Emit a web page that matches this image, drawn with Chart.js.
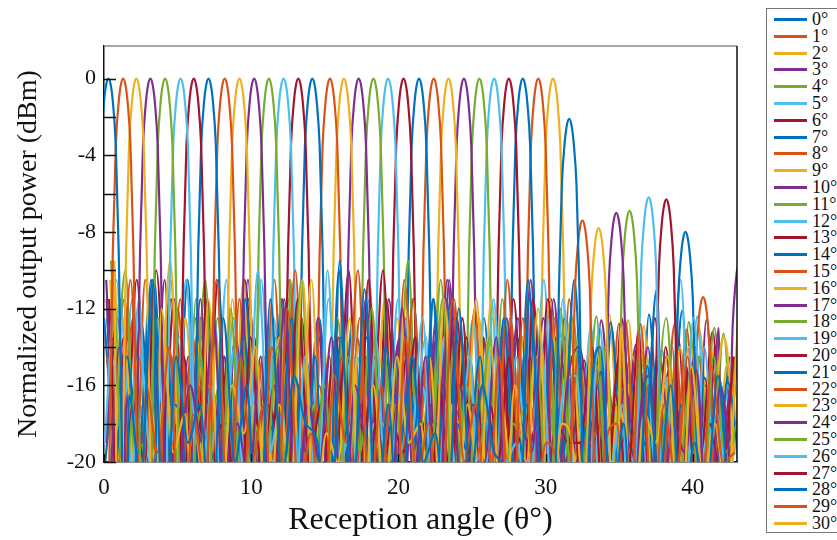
<!DOCTYPE html>
<html>
<head>
<meta charset="utf-8">
<script src="https://cdn.jsdelivr.net/npm/chart.js@4.4.1/dist/chart.umd.min.js"></script>
<style>
  html, body { margin: 0; padding: 0; background: #fff; overflow: hidden; width: 837px; height: 540px; }
  #wrap { position: relative; width: 837px; height: 540px; }
  #legend { position: absolute; left: 766px; top: 8px; width: 110px; height: 525px; border: 1px solid #777; background: #fff; box-sizing: border-box; }
  .item { position: absolute; left: 0; height: 18px; width: 110px; font-family: "Liberation Serif", serif; font-size: 18px; line-height: 18px; color: #111; }
  .item span.line { position: absolute; left: 7px; top: 8px; width: 33px; height: 3px; }
  .item span.txt { position: absolute; left: 45px; top: 0; }
</style>
</head>
<body>
<div id="wrap">
  <canvas id="beamChart" width="837" height="540"></canvas>
  <div id="legend"></div>
</div>
<script>
// Tên các chuỗi (góc lái), tick, màu
const seriesLabels = ['0°','1°','2°','3°','4°','5°','6°','7°','8°','9°','10°','11°','12°','13°','14°','15°',
  '16°','17°','18°','19°','20°','21°','22°','23°','24°','25°','26°','27°','28°','29°','30°'];
const xTicks = [0, 10, 20, 30, 40];
const yTicks = [0, -2, -4, -6, -8, -10, -12, -14, -16, -18, -20];
const yLabelTicks = [0, -4, -8, -12, -16, -20];
const palette = ['#0072BD', '#D95319', '#EDB120', '#7E2F8E', '#77AC30', '#4DBEEE', '#A2142F'];

// Vị trí búp chính (độ)
const peakAngle = [0.3, 1.3, 2.2, 3.15, 4.15, 5.2, 6.1, 7.1, 8.2, 9.2, 10.2, 11.2, 12.2, 13.2, 14.15, 15.35,
  16.3, 17.3, 18.3, 19.3, 20.35, 21.4, 22.4, 23.4, 24.45, 25.5, 26.5, 27.5, 28.45, 29.5, 30.5];
// Búp phụ lớn sau 31° (grating lobes)
const gratingAngle = [31.6, 32.5, 33.6, 34.8, 35.7, 37.0, 38.2, 39.5, 40.7, 42.1, 43.2];
const gratingLevel = [-2.1, -7.4, -7.8, -7.0, -6.9, -6.2, -6.3, -8.0, -11.4, -13.5, -9.5];

// Hình dạng búp (lệch góc, suy giảm dB)
const lobeOffset = [-1.15, -0.9, -0.7, -0.5, -0.3, -0.15, 0, 0.15, 0.3, 0.5, 0.7, 0.9, 1.15];
const lobeDrop = [-32, -18, -9, -3.5, -1.2, -0.3, 0, -0.3, -1.2, -3.5, -9, -18, -32];

// Búp phụ nhỏ: mỗi chuỗi một lưới bước 0.8°, lệch pha riêng
const sideStep = 0.8;
const sidePhase = [0.1, 0.45, 0.7, 0.25, 0.6, 0.05, 0.35, 0.75, 0.2, 0.5, 0.15, 0.65, 0.78, 0.55, 0.0, 0.4,
  0.72, 0.12, 0.48, 0.28, 0.62, 0.08, 0.38, 0.68, 0.18, 0.52, 0.32, 0.76, 0.22, 0.58, 0.42];
const side0 = [-13.5,-23,-16.5,-21,-10.5,-25,-14.5,-19,-17,-24,-12.5,-20,-16,-27,-11.5,-21,-15.5,-18,-19,-26,-13.5,-22,-11,-23.5,-17,-25,-14.5,
  -20,-18.5,-24,-12,-21,-16,-19.5,-20.5,-26,-11.5,-22,-14.5,-25,-17.5,-20,-14,-23,-18,-27,-15,-21,-16,-24,-19,-22,-15.5,-23];
const side1 = [-22,-12,-25,-16,-19.5,-14,-27,-17.5,-21,-10.5,-24,-14.5,-20,-17,-26,-12,-22,-18.5,-24,-15.5,-19,-10,-23,-16,-28,-13.5,-21,
  -18,-25,-11.5,-20,-17,-24,-14.5,-27,-12.5,-22,-19,-20.5,-13.5,-25,-16.5,-19,-18,-26,-12.8,-23,-17,-21,-14.5,-25,-15,-20,-19.5];
const side2 = [-9.5,-21,-14.5,-25,-12,-19.5,-17.5,-27,-11.5,-23,-16,-18.5,-14,-25,-17,-21,-10.5,-24,-18.5,-20,-12.5,-26,-16,-22,-14.5,-19,-18,
  -25,-11.5,-23,-17,-21,-14,-27,-16,-20,-12,-24,-18,-19.5,-23,-16,-20,-13,-24,-17.5,-19,-14.5,-26,-15,-21,-18,-22,-12.2];
const side3 = [-24,-14,-20,-17,-26,-10.5,-22,-16,-19,-12.5,-25,-18,-21,-14.5,-27,-11.5,-23,-17,-20,-13.5,-25,-16,-19,-18.5,-24,-12,-21,
  -14.5,-26,-10.5,-22,-17,-20,-13.5,-25,-18,-19.5,-12.5,-23,-16,-14,-21,-17,-24,-12.5,-20,-15.5,-23,-18,-19.5,-15.2,-25,-16,-21];
const side4 = [-9.5,-21,-16,-25,-11.5,-23,-14.5,-19,-17,-27,-12,-22,-18,-20,-14,-24,-10.5,-21,-16,-26,-14.5,-19.5,-12,-23,-17,-22,-19,
  -20,-11.5,-25,-16,-21,-13.5,-23,-18,-19,-14.5,-24,-12,-22,-20,-14.8,-25,-15,-19,-17.5,-22,-12.5,-21,-16,-24,-14.5,-19.5,-18];
const side5 = [-19,-10.5,-24,-14.5,-22,-18,-20,-12,-26,-16,-21,-14,-23,-10,-19.5,-17,-25,-14.5,-22,-11.5,-20,-18,-27,-13.5,-23,-16.5,-19,
  -12.5,-24,-17,-21,-14.5,-26,-11.5,-20,-19,-23,-13.5,-22,-16,-15.5,-22,-12.9,-20,-17,-25,-14,-19.5,-16,-23,-12.5,-21,-17.5,-24];
const side6 = [-11.5,-25,-17,-20,-10,-23,-14.5,-22,-12.5,-19,-18,-26,-13.5,-21,-16,-24,-11.5,-20,-17,-23,-14.5,-27,-10.5,-22,-18,-19.5,-13.5,
  -25,-16,-21,-12.5,-24,-17,-20,-14.5,-26,-11.5,-22,-18,-19,-19,-14,-23,-16.5,-21,-13,-25,-17,-20,-15,-24,-18,-21,-14.5];
const side7 = [-21,-14.5,-19.5,-11.5,-26,-17,-21,-10.5,-23,-16,-20,-13.5,-25,-18,-19,-12.5,-22,-14.5,-27,-10,-21,-17,-24,-14,-20,-16,-22,
  -11.5,-25,-18,-19.5,-14.5,-23,-12.5,-21,-17,-26,-13.5,-20,-10.5,-22,-16,-23,-18,-19.5,-19,-11,-24,-14.5,-21,-17,-27,-15.8,-20];
const side8 = [-14.5,-20,-10.5,-24,-17,-22,-12,-19,-16,-26,-11.5,-21,-18,-23,-14,-20,-10,-25,-16,-19.5,-14.5,-22,-12.5,-27,-17,-21,-11.5,
  -22,-18,-24,-13.5,-19,-16,-23,-10.5,-20,-17,-26,-12.5,-22,-14.5,-19,-18,-24,-12.6,-21,-16,-23,-14,-20,-17,-25,-15,-22];
const side9 = [-25,-12.5,-21,-16,-19,-9.5,-23,-18,-22,-13.5,-26,-11.5,-20,-17,-23,-14.5,-19,-10.5,-25,-16,-21,-14,-24,-18,-20,-12,-27,
  -14.5,-22,-17,-19.5,-11.5,-23,-16,-21,-13.5,-25,-18,-20,-12.5,-21,-15,-26,-17,-19,-14.2,-22,-16,-24,-14,-21,-18,-20,-15];
const side10 = [-10.5,-22,-16,-19,-13.5,-25,-18,-21,-11.5,-23,-14.5,-20,-17,-27,-10,-22,-16,-19.5,-12.5,-24,-18,-21,-14.5,-23,-11.5,-20,-17,
  -26,-13.5,-22,-16,-19,-18,-24,-12.5,-21,-14.5,-23,-11.5,-20,-16,-22,-15.3,-25,-16,-19,-14,-23,-18,-21,-14.5,-27,-13,-20];
const side11 = [-20,-10,-24,-14.5,-21,-17,-26,-11.5,-19,-16,-23,-13.5,-25,-18,-20,-10.5,-22,-17,-24,-12.5,-19.5,-16,-27,-14.5,-21,-9.5,-23,
  -18,-20,-13.5,-22,-16,-25,-11.5,-19,-17,-22,-14.5,-26,-12.5,-20,-12.4,-23,-16,-19,-14.5,-24,-17,-22,-16.2,-21,-13,-20,-18];
const side12 = [-17,-21,-11.5,-26,-14.5,-19,-10.5,-23,-18,-22,-12.5,-20,-16,-24,-13.5,-19.5,-17,-27,-10,-22,-14.5,-21,-18,-20,-11.5,-25,-16,
  -19,-13.5,-23,-17,-22,-12.5,-26,-14.5,-20,-18,-23,-11.5,-21,-19,-16,-23,-17,-20,-15,-21,-20,-10.5,-25,-14,-22,-16,-21];
const side13 = [-23,-13.5,-19.5,-18,-25,-11.5,-21,-16,-20,-10.5,-24,-14.5,-22,-17,-19,-12.5,-26,-16,-21,-13.5,-23,-18,-20,-10,-22,-14.5,-19,
  -17,-25,-12.5,-21,-16,-27,-13.5,-20,-18,-22,-11.5,-19,-14.5,-24,-17,-22,-14.6,-20,-16,-26,-14,-21,-18,-19.5,-13.2,-23,-15];
const side14 = [-12.5,-19,-17,-23,-10.5,-22,-14.5,-26,-13.5,-20,-18,-22,-11.5,-21,-16,-25,-12.5,-19,-17,-22,-9.5,-24,-14.5,-20,-18,-26,-13.5,
  -21,-11.5,-23,-16,-19,-17,-22,-12.5,-25,-10.5,-20,-14.5,-22,-22,-18,-24,-12.7,-19,-16,-21,-14.5,-26,-17,-22,-15.6,-20,-15.5];
const side15 = [-21,-16,-25,-10.5,-20,-17,-22,-13.5,-19,-18,-24,-11.5,-21,-14.5,-20,-17,-27,-12.5,-19,-16,-23,-13.5,-21,-18,-25,-10.5,-20,
  -14.5,-22,-17,-19,-12,-24,-16,-21,-13.5,-20,-18,-26,-11.5,-21,-14.5,-19,-17,-23,-15.1,-22,-16,-20,-13.1,-24,-18,-21,-14.5];
const side16 = [-10,-24,-14.5,-20,-18,-22,-12.5,-19,-16,-26,-11.5,-21,-17,-20,-13.5,-23,-18,-20,-14.5,-25,-10.5,-19,-16,-22,-12.5,-24,-17,
  -20,-13.5,-27,-14.5,-21,-11.5,-22,-18,-19,-16,-23,-13.5,-20,-17,-25,-12.3,-21,-14.5,-19,-18,-24,-14,-21,-16,-22,-14.9,-20];
const side17 = [-19,-12.5,-22,-18,-21,-10.5,-25,-14.5,-20,-17,-23,-13.5,-19,-16,-26,-11.5,-22,-18,-20,-14.5,-24,-12.5,-21,-17,-19,-13.5,-27,
  -16,-22,-10.5,-20,-18,-23,-14.5,-19,-12.5,-25,-17,-21,-13.5,-20,-16,-24,-18,-21,-13.9,-22,-14.5,-19,-17,-26,-12.6,-21,-16];
const side18 = [-9.5,-20,-16,-24,-12.5,-22,-18,-19,-10.5,-25,-14.5,-21,-17,-23,-13.5,-20,-11.5,-26,-16,-19,-18,-22,-12.5,-21,-14.5,-24,-17,
  -20,-10.5,-22,-16,-27,-13.5,-19,-18,-23,-12.5,-21,-14.5,-20,-17,-25,-14,-22,-16,-19,-15.4,-23,-18,-21,-14.5,-22,-13.3,-24];
const side19 = [-23,-11.5,-20,-17,-22,-14.5,-19,-18,-26,-12.5,-21,-16,-24,-10.5,-20,-17,-22,-13.5,-19,-18,-25,-14.5,-21,-11.5,-23,-16,-20,
  -13.5,-27,-17,-19,-12.5,-22,-18,-24,-14.5,-20,-10.5,-22,-16,-21,-12.9,-26,-17,-19,-14.5,-23,-14.1,-20,-18,-22,-16,-25,-15.2];
const side20 = [-13.5,-21,-10.5,-19,-17,-25,-14.5,-21,-11.5,-23,-18,-20,-13.5,-26,-16,-19,-12.5,-22,-17,-21,-10,-24,-14.5,-20,-18,-22,-12.5,
  -27,-16,-19,-13.5,-23,-17,-21,-11.5,-20,-18,-24,-14.5,-19,-14.7,-22,-16,-21,-17,-25,-12.5,-20,-13.6,-23,-18,-21,-16.1,-19];
const side21 = [-20,-14.5,-24,-12.5,-19,-18,-22,-10.5,-21,-16,-27,-13.5,-20,-17,-22,-11.5,-25,-14.5,-19,-18,-23,-12.5,-21,-16,-20,-13.5,-24,
  -17,-19,-11.5,-22,-14.5,-26,-18,-21,-13.5,-20,-16,-23,-12.5,-19,-17,-22,-13,-25,-14.5,-21,-18,-20,-12.1,-24,-16,-19,-14.5];
const side22 = [-16,-19,-12.5,-23,-18,-21,-11.5,-25,-14.5,-20,-17,-22,-13.5,-19,-10.5,-24,-16,-22,-18,-20,-12.5,-26,-14.5,-21,-17,-19,-13.5,
  -23,-11.5,-22,-16,-20,-18,-25,-12.5,-19,-14.5,-22,-17,-21,-15.2,-27,-14,-20,-16,-22,-18,-19,-12.8,-24,-14.5,-21,-17,-22];
const side23 = [-25,-14.5,-21,-11.5,-19,-17,-23,-13.5,-20,-18,-22,-10.5,-26,-16,-19,-12.5,-22,-17,-21,-14.5,-24,-18,-20,-11.5,-22,-16,-19,
  -13.5,-25,-17,-21,-12.5,-23,-14.5,-20,-18,-22,-11.5,-19,-16,-26,-14.3,-21,-17,-20,-12.9,-24,-15.6,-22,-18,-19,-14,-23,-16];
const side24 = [-11.5,-23,-17,-20,-13.5,-22,-18,-19,-12.5,-26,-14.5,-21,-10.5,-22,-16,-20,-18,-24,-13.5,-19,-16,-22,-11.5,-21,-17,-27,-14.5,
  -20,-12.5,-23,-18,-19,-13.5,-22,-16,-25,-10.5,-21,-17,-20,-14.5,-22,-12.6,-19,-18,-24,-15.4,-22,-16,-20,-14,-26,-17,-21];
const side25 = [-22,-17,-19,-13.5,-24,-10.5,-21,-16,-23,-12.5,-20,-18,-25,-14.5,-19,-11.5,-23,-17,-21,-13.5,-27,-16,-20,-18,-22,-12.5,-19,
  -14.5,-24,-17,-21,-10.5,-22,-16,-20,-13.5,-26,-18,-19,-12.5,-23,-14.5,-21,-17,-22,-14.9,-20,-16,-25,-12.7,-19,-18,-22,-14.5];
const side26 = [-14.5,-21,-11.5,-24,-17,-19,-13.5,-22,-18,-20,-10.5,-26,-16,-22,-12.5,-19,-17,-23,-14.5,-21,-18,-20,-11.5,-25,-16,-19,-13.5,
  -22,-17,-21,-12.5,-24,-14.5,-20,-18,-22,-11.5,-19,-16,-27,-15.1,-21,-17,-22,-14,-20,-14.5,-23,-18,-19,-12.4,-25,-16,-21];
const side27 = [-19,-13.5,-23,-18,-21,-11.5,-20,-16,-25,-14.5,-22,-10.5,-19,-17,-24,-12.5,-21,-18,-22,-13.5,-20,-16,-26,-11.5,-19,-17,-22,
  -14.5,-23,-12.5,-20,-18,-21,-13.5,-27,-16,-19,-11.5,-22,-17,-21,-14.5,-24,-12.5,-20,-18,-22,-15.2,-19,-16,-23,-14,-21,-17];
const side28 = [-12.5,-22,-16,-19,-10.5,-25,-17,-21,-13.5,-20,-18,-23,-11.5,-22,-14.5,-19,-17,-26,-12.5,-21,-16,-20,-13.5,-24,-18,-19,-11.5,
  -22,-14.5,-21,-17,-20,-12.5,-25,-16,-19,-18,-23,-13.5,-19,-14.2,-22,-17,-21,-14.5,-26,-12.3,-20,-18,-22,-16,-19,-15.7,-24];
const side29 = [-21,-11.5,-19,-17,-26,-14.5,-22,-12.5,-20,-18,-23,-13.5,-19,-16,-22,-10.5,-21,-17,-25,-14.5,-20,-12.5,-22,-18,-19,-13.5,-24,
  -16,-21,-11.5,-22,-17,-20,-14.5,-26,-12.5,-19,-18,-23,-13.5,-21,-16,-22,-12.8,-20,-17,-24,-14.5,-19,-15.3,-22,-18,-21,-14.4];
const side30 = [-10.5,-20,-16,-24,-13.5,-21,-18,-19,-11.5,-22,-17,-21,-12.5,-25,-14.5,-20,-16,-23,-13.5,-19,-18,-21,-10.5,-26,-17,-20,-14.5,
  -22,-12.5,-24,-16,-19,-18,-22,-13.5,-21,-17,-20,-11.5,-23,-14.5,-25,-16,-19,-12.6,-22,-18,-21,-14.8,-24,-13,-20,-17,-22];
const sideLevels = [side0, side1, side2, side3, side4, side5, side6, side7, side8, side9, side10, side11, side12, side13,
  side14, side15, side16, side17, side18, side19, side20, side21, side22, side23, side24, side25, side26, side27, side28,
  side29, side30];

const serif = 'Liberation Serif, Times New Roman, serif';

// Ghép búp chính + búp phụ cho từng chuỗi
function buildSeries(s) {
  const lobes = [[peakAngle[s], 0]];
  if (s < gratingAngle.length) lobes.push([gratingAngle[s], gratingLevel[s]]);
  const pts = [];
  sideLevels[s].forEach((v, i) => {
    const x = sidePhase[s] + sideStep * i;
    if (lobes.every(l => Math.abs(x - l[0]) > 1.3)) pts.push({ x: x, y: v });
  });
  lobes.forEach(l => {
    lobeOffset.forEach((d, k) => pts.push({ x: l[0] + d, y: l[1] + lobeDrop[k] }));
  });
  pts.sort((a, b) => a.x - b.x);
  return pts;
}

const datasets = seriesLabels.map((lab, s) => ({
  label: lab,
  data: buildSeries(s),
  borderColor: palette[s % palette.length],
  borderWidth: 2.2,
  pointRadius: 0,
  cubicInterpolationMode: 'monotone',
  fill: false
}));

// Vạch chia hướng vào trong + khung trên/phải
const framePlugin = {
  id: 'frame',
  afterDatasetsDraw(chart) {
    const { ctx, chartArea: a, scales } = chart;
    ctx.save();
    ctx.strokeStyle = '#111';
    ctx.lineWidth = 1.3;
    ctx.beginPath();
    yTicks.forEach(v => {
      const py = Math.round(scales.y.getPixelForValue(v)) + 0.5;
      ctx.moveTo(a.left, py); ctx.lineTo(a.left + 12, py);
    });
    xTicks.forEach(v => {
      const px = Math.round(scales.x.getPixelForValue(v)) + 0.5;
      ctx.moveTo(px, a.bottom); ctx.lineTo(px, a.bottom - 8);
    });
    ctx.stroke();
    ctx.strokeStyle = '#888';
    ctx.lineWidth = 1.5;
    ctx.beginPath(); ctx.moveTo(a.left, a.top); ctx.lineTo(a.right, a.top); ctx.stroke();
    ctx.strokeStyle = '#111';
    ctx.beginPath(); ctx.moveTo(a.right, a.top); ctx.lineTo(a.right, a.bottom); ctx.stroke();
    ctx.restore();
  }
};

const ctx = document.getElementById('beamChart').getContext('2d');
new Chart(ctx, {
  type: 'line',
  data: { datasets: datasets },
  options: {
    responsive: false,
    animation: false,
    layout: { padding: { left: 0, right: 100, top: 46, bottom: 0 } },
    plugins: { legend: { display: false }, tooltip: { enabled: false } },
    scales: {
      x: {
        type: 'linear',
        min: 0,
        max: 43,
        afterBuildTicks: s => { s.ticks = xTicks.map(v => ({ value: v })); },
        afterFit: s => { s.height = 78; },
        grid: { display: false, drawTicks: false },
        border: { display: true, color: '#111', width: 1.5 },
        ticks: { padding: 12, color: '#111', font: { family: serif, size: 23 }, maxRotation: 0, autoSkip: false },
        title: { display: true, text: 'Reception angle (θ°)', color: '#111', font: { family: serif, size: 32 }, padding: 0 }
      },
      y: {
        type: 'linear',
        min: -20,
        max: 1.7,
        afterBuildTicks: s => { s.ticks = yTicks.map(v => ({ value: v })); },
        afterFit: s => { s.width = 104; },
        grid: { display: false, drawTicks: false },
        border: { display: true, color: '#111', width: 1.5 },
        ticks: {
          padding: 8, color: '#111', font: { family: serif, size: 22 }, autoSkip: false,
          callback: v => (yLabelTicks.includes(v) ? String(v) : '')
        },
        title: { display: true, text: 'Normalized output power (dBm)', color: '#111', font: { family: serif, size: 28 }, padding: { top: 12, bottom: 0 } }
      }
    }
  },
  plugins: [framePlugin]
});

// Chú giải (legend) bên phải
const legendBox = document.getElementById('legend');
seriesLabels.forEach((lab, i) => {
  const item = document.createElement('div');
  item.className = 'item';
  item.style.top = (10 + 16.8 * i - 9) + 'px';
  item.innerHTML = '<span class="line" style="background:' + palette[i % palette.length] + '"></span><span class="txt">' + lab + '</span>';
  legendBox.appendChild(item);
});
</script>
</body>
</html>
